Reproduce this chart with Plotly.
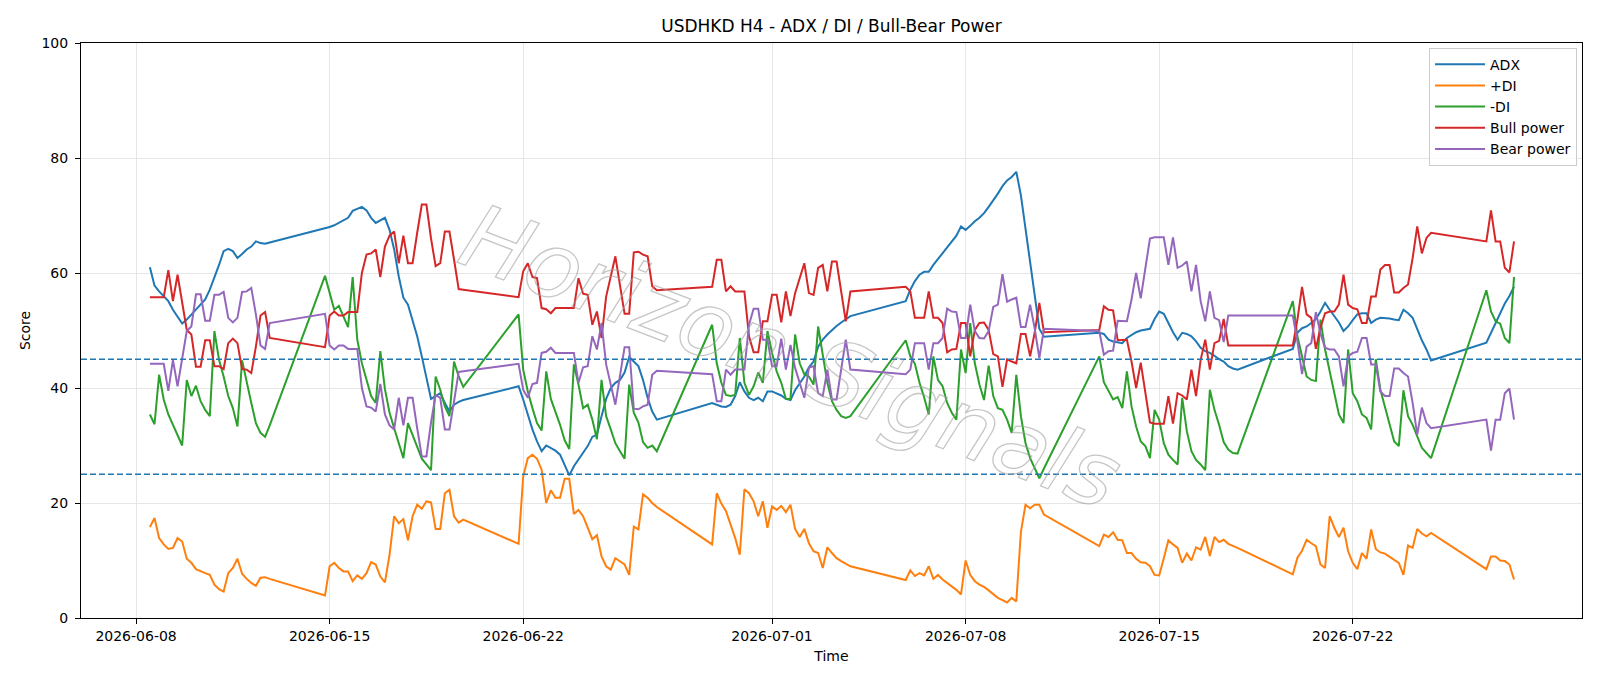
import pandas as pd
import plotly.graph_objects as go

# H4 trading sessions (first bar, last bar) - weekends are gaps
sessions = [
    ("2026-06-08 12:00", "2026-06-12 20:00"),
    ("2026-06-14 20:00", "2026-06-19 20:00"),
    ("2026-06-21 20:00", "2026-06-26 20:00"),
    ("2026-06-28 20:00", "2026-07-03 20:00"),
    ("2026-07-05 20:00", "2026-07-10 20:00"),
    ("2026-07-12 20:00", "2026-07-17 20:00"),
    ("2026-07-19 20:00", "2026-07-24 20:00"),
    ("2026-07-26 20:00", "2026-07-27 20:00"),
]

adx = [
    61.0, 57.8, 56.8, 55.9, 55.1, 53.6, 52.5, 51.2, 51.9, 52.8, 53.6, 54.5, 55.4, 57.1, 59.1, 61.4, 63.8, 64.2, 63.8, 62.6, 63.3, 64.1, 64.6, 65.5, 65.2, 65.1, 65.3,
    67.7, 68.0, 68.3, 68.7, 69.2, 69.6, 70.8, 71.2, 71.5, 70.9, 69.6, 68.7, 69.2, 69.6, 67.5, 64.1, 59.4, 55.7, 54.5, 51.9, 49.0, 45.5, 41.7, 38.1, 38.6, 39.1, 37.4, 35.9, 37.1, 37.6, 37.9,
    40.3, 38.0, 35.4, 32.8, 30.7, 29.0, 30.0, 29.6, 29.1, 28.4, 26.7, 24.8, 26.4, 27.5, 28.6, 29.9, 31.5, 31.9, 35.1, 38.1, 40.0, 40.9, 41.4, 42.7, 45.4, 44.6, 43.8, 41.4, 38.3, 35.9, 34.5,
    37.4, 37.1, 36.8, 36.7, 37.1, 38.6, 41.0, 39.4, 38.3, 37.9, 38.3, 37.7, 39.4, 39.4, 39.1, 38.7, 38.1, 37.9, 39.6, 40.9, 42.0, 43.6, 44.6, 47.2, 48.4, 49.3, 50.1, 50.8, 51.4, 52.0, 52.5,
    55.1, 57.1, 58.6, 59.7, 60.2, 60.2, 61.4, 62.4, 63.4, 64.3, 65.4, 66.5, 68.1, 67.5, 68.2, 69.0, 69.6, 70.4, 71.5, 72.6, 73.8, 75.1, 76.1, 76.7, 77.6, 73.5, 67.5, 61.5, 55.5, 50.3, 48.9,
    49.6, 49.4, 48.4, 48.1, 47.9, 47.8, 48.7, 49.2, 49.7, 50.0, 50.1, 50.3, 52.0, 53.3, 52.9, 51.3, 49.7, 48.4, 49.6, 49.4, 49.0, 48.1, 47.0, 46.4, 46.1, 45.6, 45.0, 44.6, 43.8, 43.4, 43.2,
    46.8, 49.6, 50.4, 50.7, 51.3, 52.0, 53.3, 54.8, 53.6, 52.6, 51.4, 49.9, 50.7, 51.8, 52.8, 53.0, 53.0, 51.3, 51.9, 52.2, 52.2, 52.1, 51.9, 51.8, 53.6, 53.0, 52.2, 50.1, 48.3, 46.7, 44.8,
    47.9, 49.6, 51.3, 53.0, 54.7, 56.0, 57.6,
]

plus_di = [
    15.8, 17.4, 13.9, 12.8, 12.0, 12.2, 13.9, 13.3, 10.3, 9.6, 8.5, 8.1, 7.8, 7.5, 5.8, 5.0, 4.6, 7.8, 8.7, 10.3, 7.7, 6.8, 6.1, 5.6, 7.0, 7.1, 6.8,
    3.9, 9.0, 9.6, 8.7, 8.1, 8.1, 6.4, 7.4, 6.8, 7.8, 9.7, 9.3, 7.2, 6.2, 11.0, 17.7, 16.5, 17.2, 13.5, 17.7, 19.7, 19.0, 20.3, 20.1, 15.5, 15.5, 21.7, 22.3, 17.7, 16.6, 17.1,
    12.9, 24.6, 27.8, 28.4, 27.7, 25.8, 20.0, 22.2, 20.9, 20.9, 24.2, 24.2, 18.1, 18.8, 17.7, 15.7, 13.7, 14.4, 10.7, 9.0, 8.4, 10.4, 9.9, 9.3, 7.5, 15.9, 15.4, 21.5, 20.9, 20.0, 19.3,
    12.8, 21.7, 19.9, 18.6, 16.2, 13.9, 11.0, 22.4, 21.7, 20.3, 17.7, 20.3, 15.7, 19.4, 18.8, 19.5, 18.4, 19.7, 15.5, 14.1, 15.5, 13.0, 11.6, 11.3, 8.7, 12.3, 11.3, 10.4, 9.9, 9.4, 9.0,
    6.6, 8.3, 7.3, 7.8, 7.4, 9.0, 6.8, 7.5, 6.7, 6.1, 5.5, 4.9, 4.1, 10.0, 7.5, 6.4, 5.8, 5.4, 4.8, 4.2, 3.5, 3.1, 2.7, 3.5, 2.9, 15.0, 19.7, 19.1, 19.7, 19.7, 18.0,
    12.5, 14.5, 14.1, 14.9, 13.6, 13.5, 11.3, 11.3, 10.3, 9.7, 9.6, 9.0, 7.5, 7.4, 10.4, 13.5, 12.8, 12.2, 9.6, 11.2, 10.0, 12.3, 11.9, 14.1, 10.8, 14.1, 13.2, 13.6, 12.9, 12.5, 12.2,
    7.6, 10.5, 11.7, 13.6, 13.0, 12.5, 9.3, 8.7, 17.7, 15.7, 14.1, 15.7, 11.6, 9.6, 8.5, 11.3, 10.3, 15.4, 12.0, 11.4, 11.2, 10.6, 10.1, 9.6, 7.5, 12.6, 12.2, 15.5, 14.7, 14.2, 14.8,
    8.5, 10.7, 10.7, 10.0, 9.9, 9.3, 6.7,
]

minus_di = [
    35.4, 33.7, 42.3, 38.0, 35.4, 33.6, 31.6, 30.0, 41.4, 38.6, 40.4, 37.7, 36.2, 35.1, 49.9, 44.9, 42.0, 38.6, 36.5, 33.3, 44.8, 40.9, 37.4, 33.9, 32.2, 31.5, 33.5,
    59.5, 56.5, 53.6, 54.3, 52.5, 50.6, 59.3, 48.4, 44.3, 41.4, 38.6, 37.4, 46.4, 39.8, 35.7, 33.0, 30.4, 27.8, 33.9, 31.9, 29.6, 27.7, 26.7, 25.7, 42.0, 39.7, 36.8, 35.1, 44.6, 42.0, 40.2,
    52.8, 43.2, 39.4, 36.5, 33.9, 32.6, 42.9, 38.1, 35.9, 33.6, 30.9, 29.4, 44.1, 40.6, 36.5, 37.1, 34.5, 31.1, 41.4, 35.1, 32.8, 30.4, 29.0, 27.7, 40.6, 35.7, 34.0, 30.6, 29.6, 30.0, 29.0,
    51.0, 44.3, 40.9, 38.8, 38.6, 38.8, 48.7, 40.9, 38.8, 40.3, 42.7, 40.9, 49.9, 46.1, 42.9, 40.9, 38.1, 38.1, 49.3, 44.3, 42.4, 42.0, 40.6, 50.7, 46.0, 40.9, 37.7, 36.2, 35.1, 34.8, 35.1,
    48.3, 45.5, 44.2, 40.9, 38.4, 35.4, 45.5, 41.4, 40.3, 37.4, 35.7, 34.5, 46.7, 42.6, 51.3, 44.3, 40.6, 37.9, 43.9, 38.6, 36.5, 36.2, 34.5, 32.2, 42.3, 35.1, 30.4, 27.8, 26.1, 24.3, 26.0,
    45.5, 41.0, 39.6, 38.0, 38.4, 36.5, 42.9, 36.8, 33.3, 30.7, 29.9, 27.8, 36.2, 34.5, 30.4, 28.4, 27.5, 26.7, 38.3, 32.5, 29.0, 27.5, 26.7, 25.7, 39.7, 36.2, 33.6, 30.6, 29.3, 28.7, 28.6,
    55.1, 49.0, 45.4, 42.0, 41.4, 41.2, 51.9, 46.7, 42.9, 39.1, 35.4, 33.9, 46.7, 39.1, 37.7, 35.4, 34.8, 32.8, 45.0, 39.7, 36.8, 33.9, 30.7, 29.9, 39.6, 35.1, 33.6, 31.6, 29.6, 28.7, 27.8,
    57.0, 53.3, 51.6, 51.2, 48.7, 47.8, 59.3,
]

bull_power = [
    55.8, 55.8, 55.8, 55.8, 60.5, 55.1, 59.7, 54.8, 50.1, 49.3, 43.7, 43.7, 48.3, 48.3, 43.8, 43.8, 43.3, 47.8, 48.6, 47.8, 43.3, 43.2, 42.6, 47.2, 52.6, 53.2, 48.7,
    47.1, 52.6, 53.3, 52.6, 52.6, 53.2, 53.2, 53.2, 60.0, 63.2, 63.4, 64.1, 59.3, 64.6, 66.5, 67.2, 61.7, 66.5, 61.7, 61.7, 67.0, 71.9, 71.9, 66.0, 61.2, 61.7, 67.2, 67.2, 62.3, 57.2, 57.1,
    55.8, 60.3, 61.7, 59.3, 59.1, 53.9, 53.7, 53.0, 53.9, 53.9, 53.9, 53.9, 53.9, 59.1, 56.4, 56.2, 51.0, 53.3, 48.7, 55.9, 59.4, 62.9, 57.9, 52.9, 52.9, 63.6, 63.7, 63.2, 62.9, 57.7, 57.0,
    57.6, 62.3, 62.3, 56.8, 57.7, 56.8, 56.8, 56.8, 49.0, 46.2, 46.2, 51.6, 51.6, 56.2, 56.2, 51.4, 56.8, 52.5, 56.5, 59.1, 61.7, 56.5, 56.2, 60.9, 61.4, 56.8, 62.0, 62.0, 57.1, 51.6, 56.8,
    57.6, 56.8, 52.2, 52.2, 52.2, 56.8, 52.2, 52.2, 51.3, 46.2, 46.7, 46.8, 51.3, 51.3, 45.5, 50.1, 51.3, 51.4, 50.1, 45.9, 45.5, 40.2, 45.0, 44.6, 44.3, 49.4, 49.4, 45.5, 49.7, 54.8, 49.7,
    50.1, 54.2, 53.6, 53.5, 48.3, 48.4, 48.4, 44.6, 40.0, 44.4, 39.0, 34.0, 33.8, 33.8, 33.8, 38.6, 33.8, 39.1, 38.7, 38.0, 43.2, 38.6, 44.9, 48.4, 43.2, 47.8, 48.2, 52.0, 47.4, 47.4, 47.4,
    47.4, 51.9, 57.6, 52.8, 52.2, 46.8, 50.5, 53.0, 53.3, 53.3, 54.5, 59.7, 54.5, 53.9, 53.7, 51.3, 51.3, 55.9, 55.9, 60.6, 61.4, 61.4, 56.6, 56.6, 57.4, 58.0, 62.6, 68.1, 63.4, 66.1, 67.0,
    65.5, 70.9, 65.5, 65.5, 60.9, 60.1, 65.5,
]

bear_power = [
    44.2, 44.2, 44.2, 44.2, 39.5, 44.9, 40.3, 45.2, 49.9, 50.7, 56.3, 56.3, 51.7, 51.7, 56.2, 56.2, 56.7, 52.2, 51.4, 52.2, 56.7, 56.8, 57.4, 52.8, 47.4, 46.8, 51.3,
    52.9, 47.4, 46.7, 47.4, 47.4, 46.8, 46.8, 46.8, 40.0, 36.8, 36.6, 35.9, 40.7, 35.4, 33.5, 32.8, 38.3, 33.5, 38.3, 38.3, 33.0, 28.1, 28.1, 34.0, 38.8, 38.3, 32.8, 32.8, 37.7, 42.8, 42.9,
    44.2, 39.7, 38.3, 40.7, 40.9, 46.1, 46.3, 47.0, 46.1, 46.1, 46.1, 46.1, 46.1, 40.9, 43.6, 43.8, 49.0, 46.7, 51.3, 44.1, 40.6, 37.1, 42.1, 47.1, 47.1, 36.4, 36.3, 36.8, 37.1, 42.3, 43.0,
    42.4, 37.7, 37.7, 43.2, 42.3, 43.2, 43.2, 43.2, 51.0, 53.8, 53.8, 48.4, 48.4, 43.8, 43.8, 48.6, 43.2, 47.5, 43.5, 40.9, 38.3, 43.5, 43.8, 39.1, 38.6, 43.2, 38.0, 38.0, 42.9, 48.4, 43.2,
    42.4, 43.2, 47.8, 47.8, 47.8, 43.2, 47.8, 47.8, 48.7, 53.8, 53.3, 53.2, 48.7, 48.7, 54.5, 49.9, 48.7, 48.6, 49.9, 54.1, 54.5, 59.8, 55.0, 55.4, 55.7, 50.6, 50.6, 54.5, 50.3, 45.2, 50.3,
    49.9, 45.8, 46.4, 46.5, 51.7, 51.6, 51.6, 55.4, 60.0, 55.6, 61.0, 66.0, 66.2, 66.2, 66.2, 61.4, 66.2, 60.9, 61.3, 62.0, 56.8, 61.4, 55.1, 51.6, 56.8, 52.2, 51.8, 48.0, 52.6, 52.6, 52.6,
    52.6, 48.1, 42.4, 47.2, 47.8, 53.2, 49.5, 47.0, 46.7, 46.7, 45.5, 40.3, 45.5, 46.1, 46.3, 48.7, 48.7, 44.1, 44.1, 39.4, 38.6, 38.6, 43.4, 43.4, 42.6, 42.0, 37.4, 31.9, 36.6, 33.9, 33.0,
    34.5, 29.1, 34.5, 34.5, 39.1, 39.9, 34.5,
]

levels = [25, 45]
tick_dates = ["2026-06-08", "2026-06-15", "2026-06-22", "2026-07-01", "2026-07-08", "2026-07-15", "2026-07-22"]
y_ticks = [0, 20, 40, 60, 80, 100]

times = []
for start, end in sessions:
    times.extend(pd.date_range(start, end, freq="4h"))

series = [
    ("ADX", adx, "#1f77b4"),
    ("+DI", plus_di, "#ff7f0e"),
    ("-DI", minus_di, "#2ca02c"),
    ("Bull power", bull_power, "#d62728"),
    ("Bear power", bear_power, "#9467bd"),
]
for name, vals, _ in series:
    assert len(vals) == len(times), (name, len(vals), len(times))

FONT = "DejaVu Sans"
fig = go.Figure()
for name, vals, color in series:
    fig.add_trace(go.Scatter(x=times, y=vals, mode="lines", name=name, legendgroup=name,
                             line=dict(color=color, width=2)))

for lv in levels:
    fig.add_hline(y=lv, line=dict(color="#1f77b4", width=1.3, dash="6px,3px"))

fig.add_annotation(text="Horizon Signals", xref="paper", yref="paper", x=0.473, y=0.455,
                   showarrow=False, textangle=21,
                   font=dict(family=FONT, size=90, color="rgba(170,170,170,0.4)", style="italic"))

axis_common = dict(showline=True, linecolor="black", linewidth=1, mirror=True,
                   ticks="outside", ticklen=5, tickcolor="black",
                   showgrid=True, gridcolor="#e6e6e6", gridwidth=1, zeroline=False,
                   tickfont=dict(family=FONT, size=14, color="black"))

fig.update_layout(
    width=1600, height=686,
    margin=dict(l=81, r=18, t=43, b=68),
    paper_bgcolor="white", plot_bgcolor="white",
    title=dict(text="USDHKD H4 - ADX / DI / Bull-Bear Power", x=0.5, xref="paper",
               y=1 - 26 / 686, yref="container", yanchor="middle", xanchor="center",
               font=dict(family=FONT, size=17, color="black")),
    xaxis=dict(type="date", range=["2026-06-06 00:12", "2026-07-30 07:00"],
               tickvals=tick_dates, ticktext=tick_dates,
               title=dict(text="Time", standoff=8, font=dict(family=FONT, size=14, color="black")),
               **axis_common),
    yaxis=dict(range=[0, 100], tickvals=y_ticks, ticklabelstandoff=4,
               title=dict(text="Score", standoff=7, font=dict(family=FONT, size=14, color="black")),
               **axis_common),
    legend=dict(x=0.9967, y=0.992, xanchor="right", yanchor="top",
                bgcolor="rgba(255,255,255,0.8)", bordercolor="#cccccc", borderwidth=1,
                font=dict(family=FONT, size=14, color="black"), tracegroupgap=0,
                itemwidth=50),
    showlegend=True,
)

post = """
var gd = document.getElementById('{plot_id}');
function outline(){
  gd.querySelectorAll('.annotation-text').forEach(function(t){
    t.style.fill = 'rgba(255,255,255,0)';
    t.style.stroke = 'rgba(160,160,160,0.6)';
    t.style.strokeWidth = '1.3px';
  });
}
outline();
gd.on('plotly_afterplot', outline);
"""

fig.write_html("out.html", post_script=post)
